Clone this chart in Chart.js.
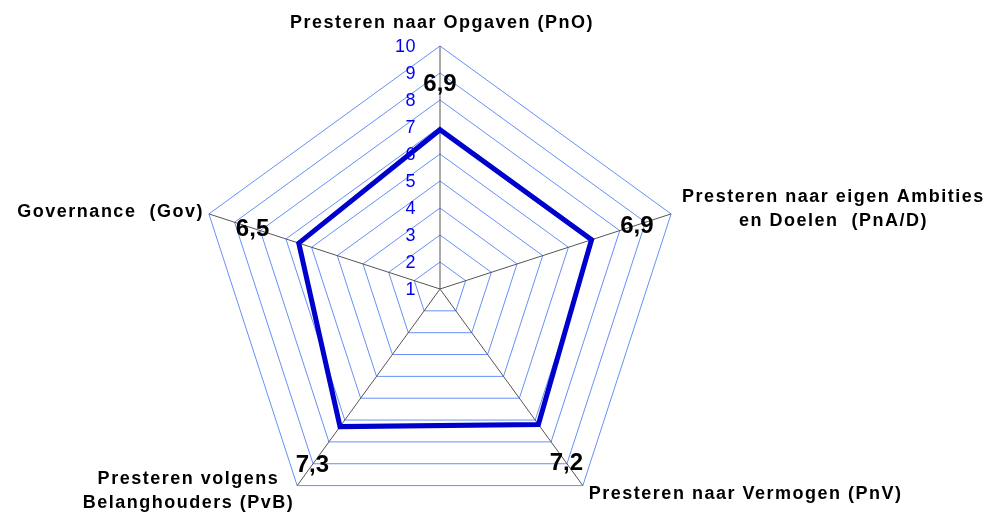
<!DOCTYPE html>
<html><head><meta charset="utf-8">
<script src="https://cdn.jsdelivr.net/npm/chart.js@4"></script>
<style>html,body{margin:0;padding:0;background:#fff}#wrap{width:991px;height:515px;position:relative}</style>
</head><body><div id="wrap"><canvas id="c"></canvas></div>
<script>
const categories = [
  'Presteren naar Opgaven (PnO)',
  ['Presteren naar eigen Ambities', 'en Doelen  (PnA/D)'],
  'Presteren naar Vermogen (PnV)',
  ['Presteren volgens', 'Belanghouders (PvB)'],
  'Governance  (Gov)'
];
const scores = [6.9, 6.9, 7.2, 7.3, 6.5];
const tickValues = [1, 2, 3, 4, 5, 6, 7, 8, 9, 10];
const scoreLabels = ['6,9', '6,9', '7,2', '7,3', '6,5'];

const FONT = '"Liberation Sans", Arial, sans-serif';

const customText = {
  id: 'customText',
  afterDatasetsDraw(chart) {
    const r = chart.scales.r;
    const ctx = chart.ctx;
    ctx.save();
    // tick labels
    ctx.font = '18px ' + FONT;
    ctx.letterSpacing = '0.5px';
    ctx.fillStyle = '#0000ee';
    ctx.textAlign = 'right';
    ctx.textBaseline = 'middle';
    tickValues.forEach(v => {
      const p = r.getPointPositionForValue(0, v);
      ctx.fillText(String(v), p.x - 24, p.y + 1);
    });
    // score labels
    const labelRadius = [8.6, 8.67, 8.96, 9.04, 8.3];
    ctx.font = 'bold 24px ' + FONT;
    ctx.letterSpacing = '0px';
    ctx.fillStyle = '#000';
    ctx.textAlign = 'center';
    scoreLabels.forEach((t, i) => {
      const p = r.getPointPositionForValue(i, labelRadius[i]);
      ctx.fillText(t, p.x, p.y + 1);
    });
    // point labels
    ctx.font = 'bold 18px ' + FONT;
    ctx.letterSpacing = '1.5px';
    const lh = 24;
    const outer = i => r.getPointPositionForValue(i, r.max);
    const lines = i => Array.isArray(categories[i]) ? categories[i] : [categories[i]];
    const maxW = ls => Math.max(...ls.map(s => ctx.measureText(s).width));
    // 0 top
    let p = outer(0);
    ctx.textAlign = 'center';
    ctx.fillText(lines(0)[0], p.x + 2, p.y - 23);
    // 1 right upper
    p = outer(1);
    let ls = lines(1); let w = maxW(ls);
    ls.forEach((s, k) => ctx.fillText(s, p.x + 11 + w / 2, p.y - 17 + k * lh));
    // 2 right lower
    p = outer(2);
    ctx.textAlign = 'left';
    ctx.fillText(lines(2)[0], p.x + 6, p.y + 8);
    // 3 left lower
    p = outer(3);
    ls = lines(3); w = maxW(ls);
    ctx.textAlign = 'center';
    ls.forEach((s, k) => ctx.fillText(s, p.x - 3 - w / 2, p.y - 7 + k * lh));
    // 4 left upper
    p = outer(4);
    ctx.textAlign = 'right';
    ctx.fillText(lines(4)[0], p.x - 5, p.y - 2);
    ctx.restore();
  }
};

new Chart(document.getElementById('c'), {
  type: 'radar',
  data: {
    labels: categories,
    datasets: [{
      data: scores,
      borderColor: '#0000cc',
      borderWidth: 5,
      borderJoinStyle: 'miter',
      fill: false,
      pointRadius: 0,
      pointHoverRadius: 0
    }]
  },
  options: {
    responsive: true,
    maintainAspectRatio: false,
    animation: false,
    events: [],
    plugins: { legend: { display: false }, tooltip: { enabled: false } },
    scales: {
      r: {
        min: 1,
        max: 10,
        ticks: { stepSize: 1, display: false },
        grid: { color: '#6690f8', lineWidth: 1, circular: false },
        angleLines: { color: '#555555', lineWidth: 1 },
        pointLabels: { display: false },
        afterFit(scale) {
          scale.xCenter = 440;
          scale.yCenter = 289;
          scale.drawingArea = 243;
        }
      }
    }
  },
  plugins: [customText]
});
</script>
</body></html>
